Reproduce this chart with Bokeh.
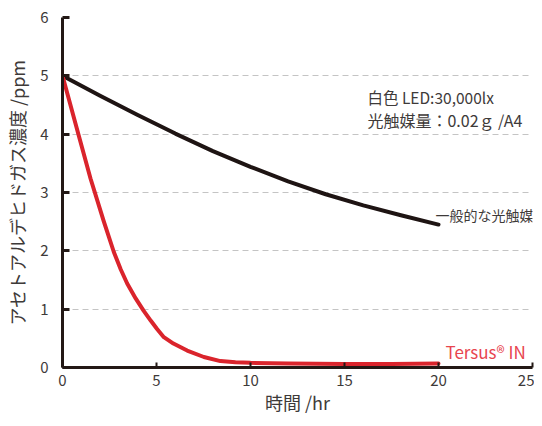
from bokeh.plotting import figure
from bokeh.models import Range1d, FixedTicker, Label
from bokeh.embed import file_html
from bokeh.resources import INLINE

# data
general_x = [0, 2, 4, 6, 8, 10, 12, 14, 16, 18, 20]
general_y = [5.0, 4.66, 4.33, 4.01, 3.71, 3.44, 3.19, 2.97, 2.78, 2.61, 2.45]
tersus_x = [0, 0.86, 1.49, 2.2, 2.73, 3.1, 3.44, 3.9, 4.32, 4.7, 5.03, 5.39,
            5.9, 6.63, 7.52, 8.4, 9.2, 10, 12, 15, 17.5, 20]
tersus_y = [5.0, 3.98, 3.24, 2.5, 1.98, 1.68, 1.44, 1.18, 0.97, 0.80, 0.66, 0.52,
            0.41, 0.29, 0.18, 0.11, 0.09, 0.08, 0.07, 0.06, 0.06, 0.07]
x_ticks = [0, 5, 10, 15, 20, 25]
y_ticks = [0, 1, 2, 3, 4, 5, 6]
label_general = "一般的な光触媒"
label_tersus = "Tersus® IN"
note_lines = ["白色 LED:30,000lx", "光触媒量：0.02ｇ /A4"]
x_title = "時間 /hr"
y_title = "アセトアルデヒドガス濃度 /ppm"

FONT = "Noto Sans CJK JP"
AXIS_COLOR = "#231815"
TEXT_COLOR = "#3e3a39"
BLACK = "#1e1413"
RED = "#da242c"

p = figure(width=534, height=418, output_backend="svg", toolbar_location=None,
           x_range=Range1d(0, 25), y_range=Range1d(0, 6),
           min_border_left=62, min_border_right=2, min_border_top=17, min_border_bottom=51)
p.outline_line_color = None
p.background_fill_color = "white"
p.border_fill_color = "white"

p.xgrid.grid_line_color = None
p.ygrid.grid_line_color = "#c4c4c4"
p.ygrid.grid_line_dash = "6 4"
p.ygrid.grid_line_width = 1

p.xaxis.ticker = FixedTicker(ticks=x_ticks)
p.yaxis.ticker = FixedTicker(ticks=y_ticks)
for ax in (p.xaxis, p.yaxis):
    ax.axis_line_color = AXIS_COLOR
    ax.axis_line_width = 3
    ax.major_tick_line_color = AXIS_COLOR
    ax.major_tick_out = 0
    ax.minor_tick_line_color = None
    ax.major_label_text_font = FONT
    ax.major_label_text_font_size = "15px"
    ax.major_label_text_color = TEXT_COLOR
    ax.axis_label_text_font = FONT
    ax.axis_label_text_font_size = "18px"
    ax.axis_label_text_font_style = "normal"
    ax.axis_label_text_color = TEXT_COLOR
p.xaxis.major_tick_in = 5
p.xaxis.major_tick_line_width = 2
p.yaxis.major_tick_in = 7
p.yaxis.major_tick_line_width = 3
p.xaxis.major_label_standoff = 7
p.yaxis.major_label_standoff = 14
p.xaxis.axis_label = x_title
p.xaxis.axis_label_standoff = 0
p.yaxis.axis_label = y_title
p.yaxis.axis_label_standoff = 7

p.line(general_x, general_y, line_color=BLACK, line_width=4, line_join="round", line_cap="round")
p.line(tersus_x, tersus_y, line_color=RED, line_width=4, line_join="round", line_cap="round")

p.add_layout(Label(x=16.22, y=4.63, text=note_lines[0], text_font=FONT, text_font_size="15.5px",
                   text_color=TEXT_COLOR, text_baseline="middle"))
p.add_layout(Label(x=16.22, y=4.24, text=note_lines[1], text_font=FONT, text_font_size="16px",
                   text_color=TEXT_COLOR, text_baseline="middle"))
p.add_layout(Label(x=19.84, y=2.61, text=label_general, text_font=FONT, text_font_size="14px",
                   text_color=TEXT_COLOR, text_baseline="middle"))
p.add_layout(Label(x=20.37, y=0.27, text=label_tersus, text_font=FONT, text_font_size="17px",
                   text_color="#e8454f", text_baseline="middle"))

open("out.html", "w").write(file_html(p, INLINE))
